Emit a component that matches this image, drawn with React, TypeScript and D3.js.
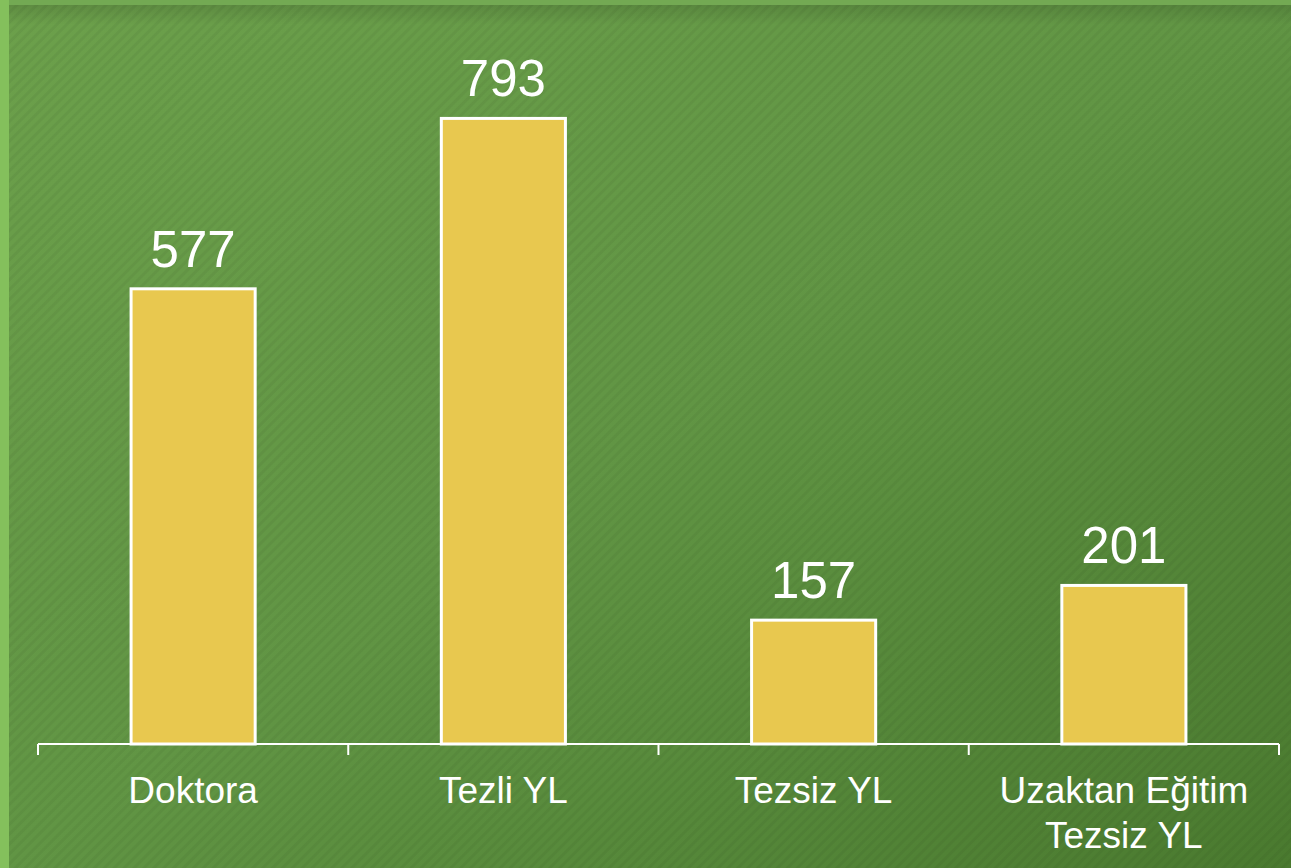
import React, { useEffect, useRef } from "react";
import * as d3 from "d3";

const categories: string[][] = [["Doktora"], ["Tezli YL"], ["Tezsiz YL"], ["Uzaktan Eğitim", "Tezsiz YL"]];
const values: number[] = [577, 793, 157, 201];
const keys: string[] = ["Doktora", "Tezli YL", "Tezsiz YL", "Uzaktan Eğitim Tezsiz YL"];

const W = 1291;
const H = 868;

export default function App() {
  const ref = useRef<SVGSVGElement | null>(null);
  useEffect(() => {
    const svg = d3.select(ref.current);
    svg.selectAll("*").remove();
    const defs = svg.append("defs");
    const grad = defs.append("linearGradient").attr("id", "bg").attr("x1", "0").attr("y1", "0").attr("x2", "1").attr("y2", "1");
    grad.append("stop").attr("offset", "0").attr("stop-color", "#6ca04b");
    grad.append("stop").attr("offset", "0.5").attr("stop-color", "#619544");
    grad.append("stop").attr("offset", "1").attr("stop-color", "#4a7a2f");
    const pat = defs.append("pattern").attr("id", "stripes").attr("width", 7).attr("height", 7)
      .attr("patternUnits", "userSpaceOnUse").attr("patternTransform", "rotate(45)");
    pat.append("rect").attr("width", 3).attr("height", 7).attr("fill", "rgba(0,0,0,0.045)");
    const topGrad = defs.append("linearGradient").attr("id", "topshade").attr("x1", "0").attr("y1", "0").attr("x2", "0").attr("y2", "1");
    topGrad.append("stop").attr("offset", "0").attr("stop-color", "rgba(0,0,0,0.12)");
    topGrad.append("stop").attr("offset", "1").attr("stop-color", "rgba(0,0,0,0)");

    svg.append("rect").attr("width", W).attr("height", H).attr("fill", "url(#bg)");
    svg.append("rect").attr("width", W).attr("height", H).attr("fill", "url(#stripes)");
    svg.append("rect").attr("x", 9).attr("y", 5).attr("width", W).attr("height", 20).attr("fill", "url(#topshade)");
    svg.append("rect").attr("x", 0).attr("y", 0).attr("width", W).attr("height", 5).attr("fill", "#73a953");
    svg.append("rect").attr("x", 0).attr("y", 0).attr("width", 9).attr("height", H).attr("fill", "#84c05c");

    const x = d3.scaleBand<string>().domain(keys).range([38, 1279]).paddingInner(0).paddingOuter(0);
    const y = d3.scaleLinear().domain([0, 900]).range([744, 34]);
    const bw = x.bandwidth() * 0.4;

    const g = svg.append("g");
    g.selectAll("rect.bar").data(values).enter().append("rect").attr("class", "bar")
      .attr("x", (_, i) => x(keys[i])! + x.bandwidth() / 2 - bw / 2)
      .attr("y", (d) => y(d))
      .attr("width", bw)
      .attr("height", (d) => y(0) - y(d))
      .attr("fill", "#e8c84f")
      .attr("stroke", "#ffffff")
      .attr("stroke-width", 3);

    g.selectAll("text.val").data(values).enter().append("text").attr("class", "val")
      .attr("x", (_, i) => x(keys[i])! + x.bandwidth() / 2)
      .attr("y", (d) => y(d) - 22)
      .attr("text-anchor", "middle")
      .attr("fill", "#ffffff")
      .attr("font-family", "'Liberation Sans', sans-serif")
      .attr("font-size", 51)
      .text((d) => String(d));

    // axis
    g.append("line").attr("x1", 38).attr("x2", 1279).attr("y1", 744).attr("y2", 744)
      .attr("stroke", "#ffffff").attr("stroke-width", 2);
    const tickXs = keys.map((k) => x(k)!).concat([x(keys[keys.length - 1])! + x.bandwidth()]);
    g.selectAll("line.tick").data(tickXs).enter().append("line").attr("class", "tick")
      .attr("x1", (d) => d).attr("x2", (d) => d).attr("y1", 744).attr("y2", 755)
      .attr("stroke", "#ffffff").attr("stroke-width", 2);

    const labels = g.selectAll("text.cat").data(categories).enter().append("text").attr("class", "cat")
      .attr("x", (_, i) => x(keys[i])! + x.bandwidth() / 2)
      .attr("y", 803)
      .attr("text-anchor", "middle")
      .attr("fill", "#ffffff")
      .attr("font-family", "'Liberation Sans', sans-serif")
      .attr("font-size", 37);
    labels.each(function (lines, i) {
      const t = d3.select(this);
      lines.forEach((ln, j) => {
        t.append("tspan").attr("x", x(keys[i])! + x.bandwidth() / 2).attr("y", 803 + j * 45).text(ln);
      });
    });
  }, []);
  return (
    <svg ref={ref} width={W} height={H} style={{ position: "absolute", left: 0, top: 0, display: "block" }} />
  );
}
